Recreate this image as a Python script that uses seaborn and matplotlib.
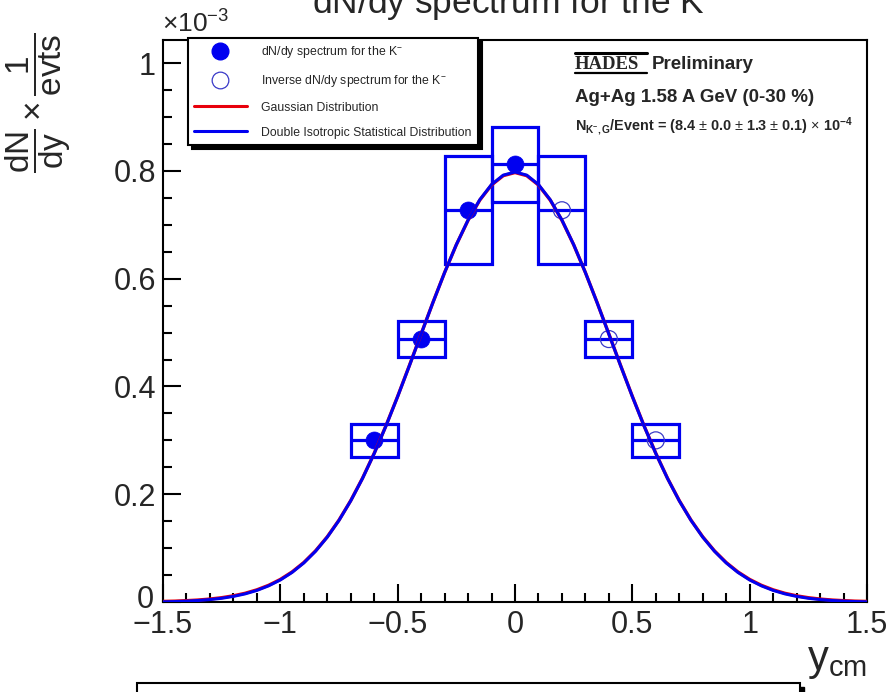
import numpy as np
import pandas as pd
import matplotlib
matplotlib.use("Agg")
import matplotlib.pyplot as plt
import matplotlib.transforms as mtransforms
import seaborn as sns
from matplotlib.patches import Rectangle
from matplotlib.lines import Line2D
from matplotlib.ticker import MultipleLocator, FixedLocator, FixedFormatter

# ---------------- data (values in units of 1e-3) ----------------
y_measured = [-0.6, -0.4, -0.2, 0.0]
dndy_measured = [0.300, 0.488, 0.727, 0.812]
sys_measured = [0.030, 0.034, 0.100, 0.069]

y_reflected = [0.2, 0.4, 0.6]
dndy_reflected = [0.727, 0.488, 0.300]
sys_reflected = [0.100, 0.034, 0.030]

bin_halfwidth = [0.1, 0.1, 0.1, 0.1]

y_curve = [-1.5, -1.45, -1.4, -1.35, -1.3, -1.25, -1.2, -1.15, -1.1, -1.05,
           -1.0, -0.95, -0.9, -0.85, -0.8, -0.75, -0.7, -0.65, -0.6, -0.55,
           -0.5, -0.45, -0.4, -0.35, -0.3, -0.25, -0.2, -0.15, -0.1, -0.05,
           0.0, 0.05, 0.1, 0.15, 0.2, 0.25, 0.3, 0.35, 0.4, 0.45,
           0.5, 0.55, 0.6, 0.65, 0.7, 0.75, 0.8, 0.85, 0.9, 0.95,
           1.0, 1.05, 1.1, 1.15, 1.2, 1.25, 1.3, 1.35, 1.4, 1.45, 1.5]
gauss_curve = [0.0011, 0.0016, 0.0025, 0.0037, 0.0055, 0.0080, 0.0115, 0.0162, 0.0226, 0.0310,
               0.0419, 0.0558, 0.0733, 0.0949, 0.1210, 0.1520, 0.1882, 0.2296, 0.2760, 0.3270,
               0.3817, 0.4390, 0.4975, 0.5556, 0.6114, 0.6630, 0.7084, 0.7459, 0.7739, 0.7912,
               0.7970, 0.7912, 0.7739, 0.7459, 0.7084, 0.6630, 0.6114, 0.5556, 0.4975, 0.4390,
               0.3817, 0.3270, 0.2760, 0.2296, 0.1882, 0.1520, 0.1210, 0.0949, 0.0733, 0.0558,
               0.0419, 0.0310, 0.0226, 0.0162, 0.0115, 0.0080, 0.0055, 0.0037, 0.0025, 0.0016, 0.0011]
disd_curve = [0.0003, 0.0008, 0.0016, 0.0028, 0.0045, 0.0069, 0.0104, 0.0151, 0.0215, 0.0300,
              0.0409, 0.0549, 0.0725, 0.0942, 0.1204, 0.1515, 0.1878, 0.2292, 0.2756, 0.3266,
              0.3813, 0.4386, 0.4972, 0.5554, 0.6114, 0.6632, 0.7088, 0.7466, 0.7748, 0.7922,
              0.7980, 0.7922, 0.7748, 0.7466, 0.7088, 0.6632, 0.6114, 0.5554, 0.4972, 0.4386,
              0.3813, 0.3266, 0.2756, 0.2292, 0.1878, 0.1515, 0.1204, 0.0942, 0.0725, 0.0549,
              0.0409, 0.0300, 0.0215, 0.0151, 0.0104, 0.0069, 0.0045, 0.0028, 0.0016, 0.0008, 0.0003]

x_ticks = [-1.5, -1.0, -0.5, 0.0, 0.5, 1.0, 1.5]
x_ticklabels = ["\u22121.5", "\u22121", "\u22120.5", "0", "0.5", "1", "1.5"]
y_ticks = [0.0, 0.2, 0.4, 0.6, 0.8, 1.0]
y_ticklabels = ["0", "0.2", "0.4", "0.6", "0.8", "1"]

legend_labels = [r"dN/dy spectrum for the K$^{-}$",
                 r"Inverse dN/dy spectrum for the K$^{-}$",
                 "Gaussian Distribution",
                 "Double Isotropic Statistical Distribution"]

# ---------------- style ----------------
sns.set_theme(style="white")
plt.rcParams["font.family"] = ["Liberation Sans", "DejaVu Sans"]
plt.rcParams["mathtext.fontset"] = "custom"
plt.rcParams["mathtext.rm"] = "Liberation Sans"
plt.rcParams["mathtext.it"] = "Liberation Sans:italic"
plt.rcParams["mathtext.bf"] = "Liberation Sans:bold"
plt.rcParams["axes.unicode_minus"] = True

BLUE = "#0000f0"
RED = "#e8000b"

W, H = 894, 692
fig = plt.figure(figsize=(W / 100, H / 100), dpi=100)
fig.patch.set_facecolor("white")

def fx(px):
    return px / W

def fy(py):
    return 1 - py / H

ax = fig.add_axes([fx(163), fy(602), fx(867) - fx(163), fy(40) - fy(602)])
ax.set_facecolor("white")

# boxes (systematic errors)
for xs, ys, es in ((y_measured, dndy_measured, sys_measured),
                   (y_reflected, dndy_reflected, sys_reflected)):
    for x, y, e, hw in zip(xs, ys, es, bin_halfwidth):
        ax.add_patch(Rectangle((x - hw, y - e), 2 * hw, 2 * e, fill=False,
                               edgecolor=BLUE, linewidth=2.3, zorder=2))
        ax.plot([x - hw, x + hw], [y, y], color=BLUE, lw=2.3, zorder=2,
                solid_capstyle="butt")

df_meas = pd.DataFrame({"y": y_measured, "v": dndy_measured})
df_refl = pd.DataFrame({"y": y_reflected, "v": dndy_reflected})
sns.scatterplot(data=df_meas, x="y", y="v", ax=ax, s=150, color=BLUE,
                edgecolor=BLUE, linewidth=0.5, zorder=3, legend=False)
sns.scatterplot(data=df_refl, x="y", y="v", ax=ax, s=150, facecolor="none",
                edgecolor="#3a3ac8", linewidth=0.9, zorder=3, legend=False)

df_curve = pd.DataFrame({"y": y_curve, "g": gauss_curve, "d": disd_curve})
sns.lineplot(data=df_curve, x="y", y="g", ax=ax, color=RED, lw=2.4, zorder=4)
sns.lineplot(data=df_curve, x="y", y="d", ax=ax, color=BLUE, lw=2.2, zorder=5)

ax.set_xlim(-1.5, 1.5)
ax.set_ylim(0, 1.043)
ax.set_xlabel("")
ax.set_ylabel("")
ax.xaxis.set_major_locator(FixedLocator(x_ticks))
ax.xaxis.set_major_formatter(FixedFormatter(x_ticklabels))
ax.xaxis.set_minor_locator(MultipleLocator(0.1))
ax.yaxis.set_major_locator(FixedLocator(y_ticks))
ax.yaxis.set_major_formatter(FixedFormatter(y_ticklabels))
ax.yaxis.set_minor_locator(MultipleLocator(0.05))
ax.tick_params(which="both", direction="in", top=False, right=False,
               bottom=True, left=True, color="black", width=1.5)
ax.tick_params(which="major", length=13, labelsize=22)
ax.tick_params(which="minor", length=6.5)
ax.tick_params(axis="x", which="major", pad=6)
ax.tick_params(axis="y", which="major", pad=5)
for sp in ax.spines.values():
    sp.set_visible(True)
    sp.set_color("black")
    sp.set_linewidth(1.5)

# lift the "0" label on y slightly (as in the reference)
fig.canvas.draw()
ylabs = ax.get_yticklabels()
ylabs[0].set_transform(ylabs[0].get_transform() +
                       mtransforms.ScaledTranslation(-2 / 100, 6 / 100, fig.dpi_scale_trans))

# legend
handles = [Line2D([], [], ls="none", marker="o", markersize=12, color=BLUE),
           Line2D([], [], ls="none", marker="o", markersize=12, markerfacecolor="none",
                  markeredgecolor="#3a3ac8", markeredgewidth=0.9),
           Line2D([], [], color=RED, lw=2.2),
           Line2D([], [], color=BLUE, lw=2.2)]
leg = ax.legend(handles, legend_labels, loc="upper left",
                bbox_to_anchor=(fx(188), fy(38)), bbox_transform=fig.transFigure,
                frameon=True, fancybox=False, edgecolor="black", framealpha=1,
                shadow={"color": "black", "alpha": 1, "ox": 3, "oy": -3},
                fontsize=8.8, handlelength=4.3, handletextpad=1.2,
                borderpad=0.5, labelspacing=1.05, borderaxespad=0)
leg.get_frame().set_linewidth(1.5)
leg.set_zorder(10)

# texts
fig.text(fx(515), fy(13), r"dN/dy spectrum for the K$^{-}$", ha="center",
         va="baseline", fontsize=25.5)
fig.text(fx(162), fy(33), r"$\times$10$^{-3}$", ha="left", va="baseline", fontsize=19)
fig.text(fx(38), fy(103), r"$\dfrac{\mathrm{dN}}{\mathrm{dy}}\times\dfrac{1}{\mathrm{evts}}$",
         rotation=90, ha="center", va="center", fontsize=24)
fig.text(fx(867), fy(670), r"y$_{\mathrm{cm}}$", ha="right", va="baseline", fontsize=30)

fig.text(fx(575), fy(69), "HADES", family="Liberation Serif", fontweight="heavy",
         fontsize=13.5, ha="left", va="baseline")
fig.add_artist(Line2D([fx(575), fx(647)], [fy(53), fy(53)], color="black", lw=2.2))
fig.add_artist(Line2D([fx(575), fx(647)], [fy(73), fy(73)], color="black", lw=1.6))
fig.text(fx(652), fy(69), "Preliminary", fontweight="bold", fontsize=13.5,
         ha="left", va="baseline")
fig.text(fx(575), fy(102), "Ag+Ag 1.58 A GeV (0-30 %)", fontweight="bold",
         fontsize=13.5, ha="left", va="baseline")
fig.text(fx(575), fy(130),
         r"$\mathbf{N_{K^{-},G}}$/Event = (8.4 $\pm$ 0.0 $\pm$ 1.3 $\pm$ 0.1) $\times$ $\mathbf{10^{-4}}$",
         fontweight="bold", fontsize=10.4, ha="left", va="baseline")

# partially visible pave at the bottom
fig.add_artist(Rectangle((fx(141), fy(700)), fx(804) - fx(141), fy(687) - fy(700),
                         transform=fig.transFigure, facecolor="black", edgecolor="black"))
fig.add_artist(Rectangle((fx(137), fy(700)), fx(800) - fx(137), fy(683) - fy(700),
                         transform=fig.transFigure, facecolor="white", edgecolor="black",
                         linewidth=1.5))

fig.savefig("out.png", dpi=100, facecolor="white")
